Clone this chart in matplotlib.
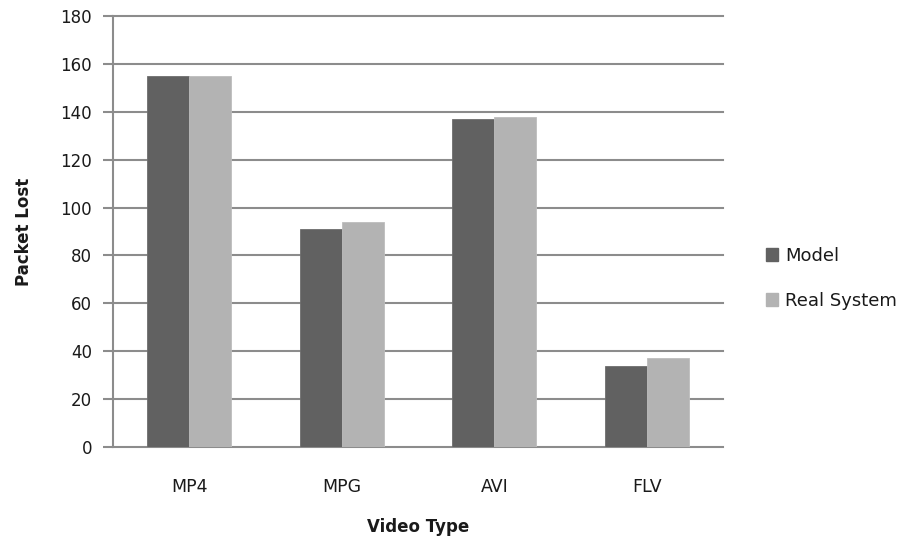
import numpy as np
import matplotlib.pyplot as plt
from matplotlib.patches import Patch

# Packet loss per video type
video_types = ["MP4", "MPG", "AVI", "FLV"]
model = [155, 91, 137, 34]
real_system = [155, 94, 138, 37]
y_ticks = [0, 20, 40, 60, 80, 100, 120, 140, 160, 180]

dark = "#616161"
light = "#b3b3b3"
grid_col = "#8c8c8c"
text_col = "#1a1a1a"

fig = plt.figure(figsize=(9.16, 5.37), dpi=100)
ax = fig.add_axes([0.1234, 0.1676, 0.6659, 0.8026])

x = np.arange(len(video_types))
w = 0.275
ax.bar(x - w / 2, model, w, color=dark, edgecolor="#6e6e6e", lw=0.6, zorder=3)
ax.bar(x + w / 2, real_system, w, color=light, edgecolor="#bdbdbd", lw=0.6, zorder=3)

ax.set_xlim(-0.5, len(video_types) - 0.5)
ax.set_ylim(0, 180)
ax.set_yticks(y_ticks)
ax.set_xticks(x)
ax.set_xticklabels(video_types)

for v in y_ticks:
    ax.axhline(v, color=grid_col, lw=1.5, zorder=1, clip_on=False)

for side in ["top", "right", "bottom"]:
    ax.spines[side].set_visible(False)
ax.spines["left"].set_color(grid_col)
ax.spines["left"].set_linewidth(1.5)

ax.tick_params(axis="y", length=7, width=1.5, color=grid_col, labelsize=12,
               labelcolor=text_col, pad=8)
ax.tick_params(axis="x", length=0, labelsize=12.5, labelcolor=text_col, pad=22)

ax.set_ylabel("Packet Lost", fontsize=12, fontweight="bold", color=text_col, labelpad=20)
ax.set_xlabel("Video Type", fontsize=12, fontweight="bold", color=text_col, labelpad=16)

handles = [Patch(facecolor=dark, edgecolor=dark), Patch(facecolor=light, edgecolor=light)]
fig.legend(handles, ["Model", "Real System"], loc="center left",
           bbox_to_anchor=(0.818, 0.482), frameon=False, fontsize=13,
           handlelength=0.7, handleheight=0.7, handletextpad=0.4,
           labelspacing=1.5, labelcolor=text_col)

fig.savefig("out.png", dpi=100)
